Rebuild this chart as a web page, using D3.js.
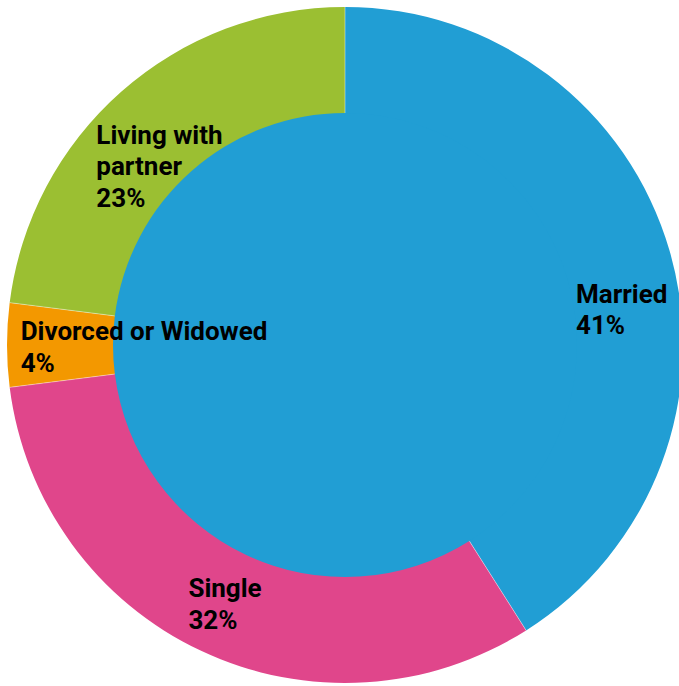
<!DOCTYPE html>
<html>
<head>
<meta charset="utf-8">
<script src="https://cdn.jsdelivr.net/npm/d3@7"></script>
<style>
  html, body { margin: 0; padding: 0; background: #ffffff; }
  svg { display: block; }
  .label { font-family: Roboto, "Noto Sans", sans-serif; font-weight: 700; font-size: 26px; fill: #000000; }
</style>
</head>
<body>
<svg id="chart" width="679" height="686"></svg>
<script>
// Marital status shares (percent)
const categories = ["Married", "Single", "Divorced or Widowed", "Living with partner"];
const values = [41, 32, 4, 23];
const labelLines = [["Married"], ["Single"], ["Divorced or Widowed"], ["Living with", "partner"]];
const colors = ["#219ed4", "#e0468b", "#f39800", "#9bbf32"];

const width = 679, height = 686;
const cx = 345, cy = 345;
const outerR = 338, innerR = 232;

const svg = d3.select("#chart");
const g = svg.append("g").attr("transform", `translate(${cx},${cy})`);

const color = d3.scaleOrdinal().domain(categories).range(colors);

const pie = d3.pie().sort(null).value(d => d.value);
const data = categories.map((c, i) => ({ name: c, value: values[i], lines: labelLines[i] }));
const arcs = pie(data);

const arc = d3.arc().innerRadius(innerR).outerRadius(outerR);

// the hole of the ring is filled with the leading category's colour
g.append("circle")
  .attr("r", innerR + 1)
  .attr("fill", color(categories[0]));

g.selectAll("path.slice")
  .data(arcs)
  .join("path")
  .attr("class", "slice")
  .attr("d", arc)
  .attr("fill", d => color(d.data.name));

// thin light separators between neighbouring slices
g.selectAll("line.sep")
  .data(arcs)
  .join("line")
  .attr("class", "sep")
  .attr("x1", d => innerR * Math.sin(d.startAngle))
  .attr("y1", d => -innerR * Math.cos(d.startAngle))
  .attr("x2", d => outerR * Math.sin(d.startAngle))
  .attr("y2", d => -outerR * Math.cos(d.startAngle))
  .attr("stroke", "#ffffff")
  .attr("stroke-opacity", 0.7)
  .attr("stroke-width", 0.6);

// label placement: polar position of each label block (angle tweak in degrees, radius)
const labelPlace = [
  { dAngle: 8.8, r: 279 },
  { dAngle: -0.3, r: 285 },
  { dAngle: -0.55, r: 201 },
  { dAngle: -4.6, r: 258 }
];

const fontSize = 26, lineH = 31.5, capH = 0.711 * fontSize;

arcs.forEach((d, i) => {
  const mid = (d.startAngle + d.endAngle) / 2 + labelPlace[i].dAngle * Math.PI / 180;
  const r = labelPlace[i].r;
  const bx = r * Math.sin(mid), by = -r * Math.cos(mid);
  const lines = d.data.lines.concat([d3.format("d")(d.data.value) + "%"]);
  const t = g.append("text").attr("class", "label");
  const n = lines.length;
  const firstBase = by - ((n - 1) * lineH - capH) / 2;
  lines.forEach((ln, j) => {
    t.append("tspan").attr("y", firstBase + j * lineH).text(ln);
  });
  let w = 0;
  t.selectAll("tspan").each(function () { w = Math.max(w, this.getComputedTextLength()); });
  t.selectAll("tspan").attr("x", bx - w / 2);
});
</script>
</body>
</html>
